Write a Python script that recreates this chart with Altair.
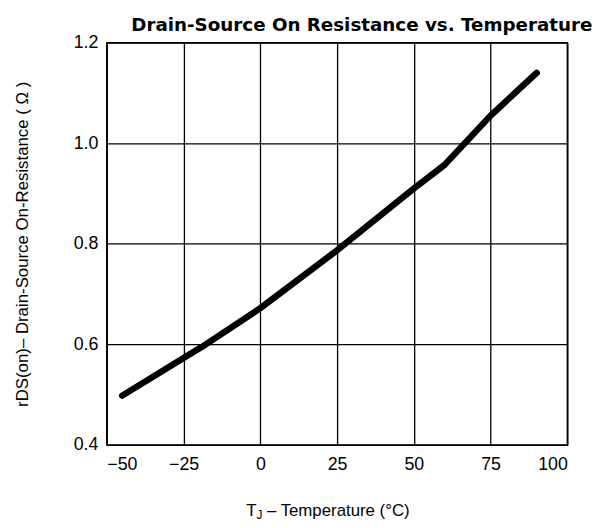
import altair as alt
import pandas as pd

temp_c = [-45, -25, -19, 0, 25, 50, 60, 75, 90]
r_ds_on = [0.498, 0.573, 0.595, 0.672, 0.787, 0.910, 0.957, 1.055, 1.14]
x_ticks = [-50, -25, 0, 25, 50, 75, 100]
y_ticks = [0.4, 0.6, 0.8, 1.0, 1.2]

df = pd.DataFrame({"t": temp_c, "r": r_ds_on})
one = pd.DataFrame({"a": [0]})

font = "Liberation Sans"

line = (
    alt.Chart(df)
    .mark_line(color="black", strokeWidth=6.5, strokeCap="round", strokeJoin="round")
    .encode(
        x=alt.X(
            "t:Q",
            scale=alt.Scale(domain=[-50, 100], nice=False, zero=False),
            axis=alt.Axis(
                values=x_ticks,
                title=None,
                labelFontSize=18,
                labelPadding=11,
                ticks=False,
                domain=False,
                gridColor="black",
                gridWidth=1.3,
                gridOpacity=1,
                labelColor="black",
                labelFont=font,
            ),
        ),
        y=alt.Y(
            "r:Q",
            scale=alt.Scale(domain=[0.4, 1.2], nice=False, zero=False),
            axis=alt.Axis(
                values=y_ticks,
                format=".1f",
                title="rDS(on)– Drain-Source On-Resistance ( Ω )",
                labelFontSize=18,
                titleFontSize=17,
                titleFontWeight="normal",
                labelPadding=9,
                titlePadding=42,
                ticks=False,
                domain=False,
                gridColor="black",
                gridWidth=1.3,
                gridOpacity=1,
                labelColor="black",
                titleColor="black",
                labelFont=font,
                titleFont=font,
            ),
        ),
    )
)

t_main = alt.Chart(one).mark_text(
    text="T", font=font, fontSize=17, align="left", baseline="alphabetic", color="black"
).encode(x=alt.value(141), y=alt.value(479))
t_sub = alt.Chart(one).mark_text(
    text="J", font=font, fontSize=12, align="left", baseline="alphabetic", color="black"
).encode(x=alt.value(151.5), y=alt.value(482))
t_rest = alt.Chart(one).mark_text(
    text="– Temperature (°C)", font=font, fontSize=17, align="left", baseline="alphabetic", color="black"
).encode(x=alt.value(162), y=alt.value(479))

chart = (
    alt.layer(line, t_main, t_sub, t_rest)
    .properties(
        width=466,
        height=407,
        title=alt.TitleParams(
            "Drain-Source On Resistance vs. Temperature",
            font="DejaVu Sans",
            fontSize=18.5,
            fontWeight="bold",
            color="black",
            anchor="middle",
            dx=25,
            offset=-1,
        ),
    )
    .configure_view(stroke="black", strokeWidth=1.5)
)

chart.save("out.html", embed_options={"renderer": "svg", "actions": False})
